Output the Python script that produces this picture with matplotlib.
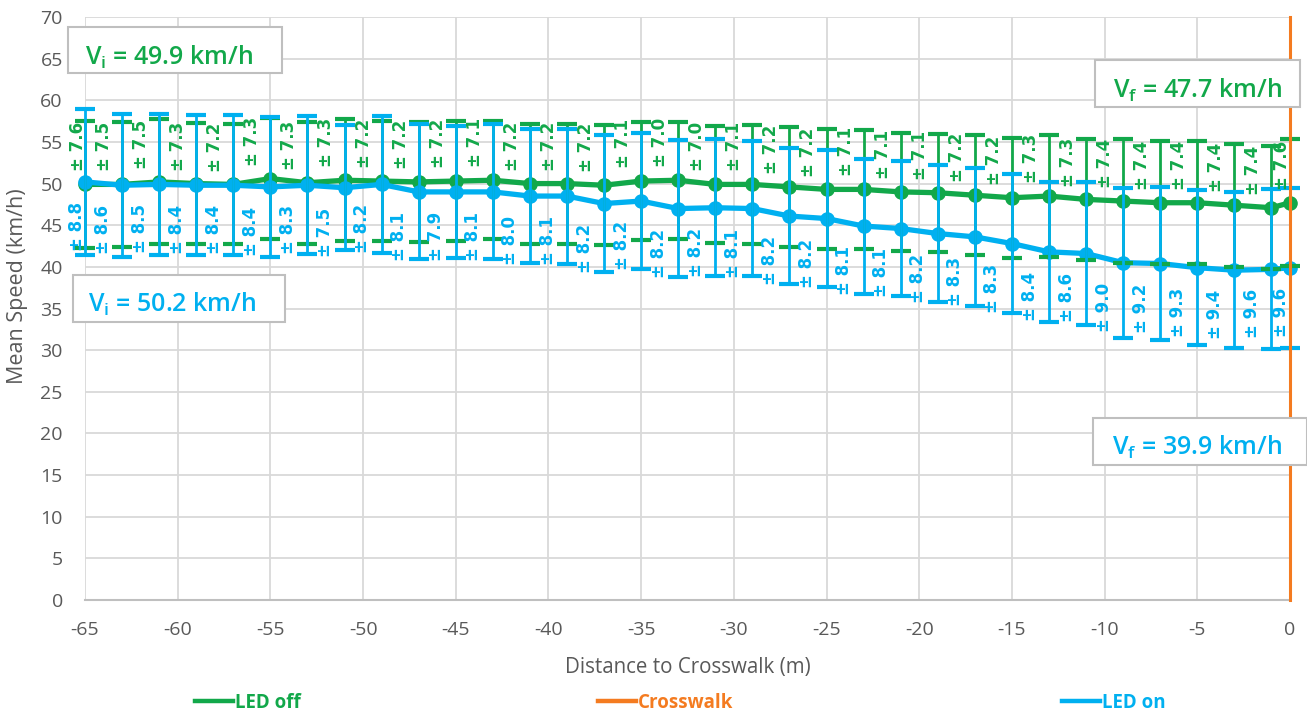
import matplotlib
matplotlib.use("Agg")
import matplotlib.pyplot as plt
from matplotlib.lines import Line2D
from matplotlib.patches import Rectangle

# ---------------- data ----------------
distance = [-65, -63, -61, -59, -57, -55, -53, -51, -49, -47, -45, -43, -41, -39,
            -37, -35, -33, -31, -29, -27, -25, -23, -21, -19, -17, -15, -13, -11,
            -9, -7, -5, -3, -1, 0]
led_off_mean = [49.9, 49.9, 50.2, 50.0, 49.9, 50.6, 50.1, 50.4, 50.3, 50.2, 50.3, 50.4,
                50.0, 50.0, 49.8, 50.3, 50.4, 49.9, 49.9, 49.6, 49.3, 49.3, 49.0, 48.9,
                48.6, 48.3, 48.5, 48.1, 47.9, 47.7, 47.7, 47.4, 47.1, 47.7]
led_off_sd = [7.6, 7.5, 7.5, 7.3, 7.2, 7.3, 7.3, 7.3, 7.2, 7.2, 7.2, 7.1, 7.2, 7.2,
              7.2, 7.1, 7.0, 7.0, 7.1, 7.2, 7.2, 7.1, 7.1, 7.1, 7.2, 7.2, 7.3, 7.3,
              7.4, 7.4, 7.4, 7.4, 7.4, 7.6]
led_on_mean = [50.2, 49.8, 49.9, 49.8, 49.8, 49.6, 49.8, 49.5, 49.9, 49.0, 49.0, 49.0,
               48.5, 48.5, 47.6, 47.9, 47.0, 47.1, 47.0, 46.1, 45.8, 44.9, 44.6, 44.0,
               43.6, 42.8, 41.8, 41.6, 40.5, 40.4, 39.9, 39.6, 39.7, 39.9]
led_on_sd = [8.8, 8.6, 8.5, 8.4, 8.4, 8.4, 8.3, 7.5, 8.2, 8.1, 7.9, 8.1, 8.0, 8.1,
             8.2, 8.2, 8.2, 8.2, 8.1, 8.2, 8.2, 8.1, 8.1, 8.2, 8.3, 8.3, 8.4, 8.6,
             9.0, 9.2, 9.3, 9.4, 9.6, 9.6]
crosswalk_x = [0, 0]
crosswalk_y = [0, 70]
series_names = ["LED off", "Crosswalk", "LED on"]
box_texts = [r"V$_{\mathregular{i}}$ = 49.9 km/h", r"V$_{\mathregular{i}}$ = 50.2 km/h",
             r"V$_{\mathregular{f}}$ = 47.7 km/h", r"V$_{\mathregular{f}}$ = 39.9 km/h"]
x_label = "Distance to Crosswalk (m)"
y_label = "Mean Speed (km/h)"

# ---------------- style ----------------
GREEN = "#12a84a"
BLUE = "#00b0f0"
ORANGE = "#f47b20"
GREY = "#595959"
GRID = "#d9d9d9"
W, H = 1307, 721

plt.rcParams["font.family"] = ["Open Sans", "DejaVu Sans"]
plt.rcParams["mathtext.fontset"] = "custom"
plt.rcParams["axes.unicode_minus"] = False

fig = plt.figure(figsize=(W / 100, H / 100), dpi=100)
ax = fig.add_axes([85 / W, 121 / H, 1205 / W, 583 / H])
ax.set_xlim(-65, 0)
ax.set_ylim(0, 70)
ax.set_xticks(range(-65, 1, 5))
ax.set_yticks(range(0, 71, 5))
ax.grid(True, color=GRID, lw=1.3, zorder=0)
ax.set_axisbelow(True)
for s in ["left", "top", "right"]:
    ax.spines[s].set_visible(False)
ax.spines["bottom"].set_color("#bfbfbf")
ax.spines["bottom"].set_linewidth(1.5)
ax.tick_params(length=0, labelsize=14, labelcolor=GREY)
ax.tick_params(axis="y", pad=16)
ax.tick_params(axis="x", pad=15)

# lines + markers
ax.plot(distance, led_off_mean, color=GREEN, lw=3.8, marker="o", ms=9.5, zorder=3, clip_on=False)
ax.plot(distance, led_on_mean, color=BLUE, lw=3.8, marker="o", ms=9.5, zorder=4, clip_on=False)
# error bars
ax.errorbar(distance, led_off_mean, yerr=led_off_sd, fmt="none", ecolor=GREEN,
            elinewidth=2.0, capsize=7, capthick=3, zorder=5, clip_on=False)
ax.errorbar(distance, led_on_mean, yerr=led_on_sd, fmt="none", ecolor=BLUE,
            elinewidth=2.0, capsize=7, capthick=3, zorder=6, clip_on=False)
# crosswalk
ax.plot(crosswalk_x, crosswalk_y, color=ORANGE, lw=2.2, zorder=7, clip_on=False)

# data labels (label x-offsets in points: tighter at both ends)
n = len(distance)
dx = [-13.0] * n
dx[0] = -5.0
dx[-1] = -5.5
for i, (x, m, sd) in enumerate(zip(distance, led_off_mean, led_off_sd)):
    ax.annotate(f"± {sd:.1f}", (x, m), xytext=(dx[i], 27), textcoords="offset points",
                rotation=90, ha="center", va="center", color=GREEN,
                fontsize=12, fontweight="bold", family="DejaVu Sans", zorder=8,
                annotation_clip=False)
for i, (x, m, sd) in enumerate(zip(distance, led_on_mean, led_on_sd)):
    ax.annotate(f"± {sd:.1f}", (x, m), xytext=(dx[i] - 1, -32), textcoords="offset points",
                rotation=90, ha="center", va="center", color=BLUE,
                fontsize=12, fontweight="bold", family="DejaVu Sans", zorder=8,
                annotation_clip=False)

# axis labels
ax.set_xlabel(x_label, fontsize=14.8, color=GREY)
ax.set_ylabel(y_label, fontsize=15.5, color=GREY)
ax.xaxis.set_label_coords((688 - 85) / 1205, (600 - 667) / 583)
ax.xaxis.label.set_va("center")
ax.yaxis.set_label_coords((18 - 85) / 1205, (600 - 286) / 583)
ax.yaxis.label.set_va("center")


def fx(px):
    return px / W


def fy(py):
    return 1 - py / H


# annotation boxes: (x0, y0, x1, y1, text_x, baseline, color)
boxes = [
    (68, 27, 282, 73, 85, 65, GREEN),
    (73, 275, 285, 322, 88, 312, BLUE),
    (1095, 60, 1300, 107, 1113, 98, GREEN),
    (1093, 418, 1307, 465, 1112, 455, BLUE),
]
for (x0, y0, x1, y1, tx, ty, c), s in zip(boxes, box_texts):
    fig.patches.append(Rectangle((fx(x0), fy(y1)), fx(x1 - x0), (y1 - y0) / H,
                                 transform=fig.transFigure, facecolor="white",
                                 edgecolor="#bfbfbf", lw=1.5, zorder=10))
    fig.text(fx(tx), fy(ty), s, color=c, fontsize=18, va="baseline", ha="left",
             zorder=11, fontweight="semibold")

# legend: one entry per series, each placed at its own spot
colors = [GREEN, ORANGE, BLUE]
starts = [195, 598, 1062]
for name, c, x0 in zip(series_names, colors, starts):
    h = Line2D([], [], color=c, lw=3.2)
    leg = fig.legend([h], [name], loc="center left", bbox_to_anchor=(fx(x0), fy(703)),
                     frameon=False, handlelength=2.0, handletextpad=0.12,
                     borderpad=0, borderaxespad=0,
                     prop={"size": 13.5, "weight": "bold"})
    leg.get_texts()[0].set_color(c)

fig.savefig("out.png", dpi=100)
